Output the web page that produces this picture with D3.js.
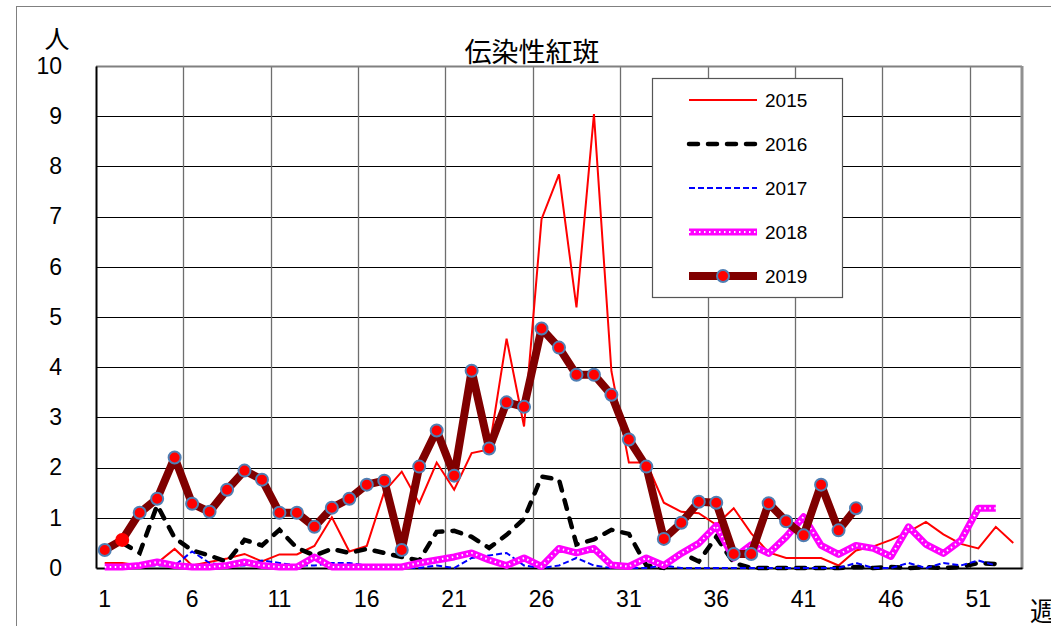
<!DOCTYPE html>
<html lang="ja">
<head>
    <meta charset="UTF-8">
    <title>伝染性紅斑</title>
    <script src="https://d3js.org/d3.v7.min.js"></script>
    <style>
        body { margin: 0; background: #fff; }
        svg text { font-family: "Liberation Sans", Arial, "Noto Sans CJK JP", sans-serif; fill: #000; }
        .cjk { font-family: "Noto Sans CJK JP", sans-serif; }
    </style>
</head>
<body>
<div id="chart"></div>
<script>
    // weekly counts per year (week 1..53)
    const weeks = d3.range(1, 54);
    const xTicks = [1, 6, 11, 16, 21, 26, 31, 36, 41, 46, 51];
    const yTicks = d3.range(0, 11);

    const s2015 = [0.1, 0.1, 0.05, 0.1, 0.38, 0.05, 0.12, 0.19, 0.28, 0.13, 0.27, 0.27, 0.44, 1.01, 0.33, 0.44, 1.52, 1.92, 1.29, 2.1,
                   1.56, 2.29, 2.36, 4.57, 2.82, 6.95, 7.84, 5.19, 9.04, 3.92, 2.1, 2.1, 1.3, 1.12, 1.09, 0.86, 1.19, 0.69, 0.31, 0.2,
                   0.2, 0.2, 0.05, 0.35, 0.43, 0.56, 0.72, 0.92, 0.67, 0.48, 0.39, 0.82, 0.5];
    const s2016 = [0.4, 0.5, 0.3, 1.25, 0.6, 0.35, 0.25, 0.12, 0.56, 0.45, 0.76, 0.4, 0.25, 0.38, 0.3, 0.38, 0.3, 0.22, 0.15, 0.72,
                   0.74, 0.62, 0.4, 0.66, 0.98, 1.82, 1.76, 0.47, 0.57, 0.76, 0.68, 0.05, 0, 0.3, 0.13, 0.62, 0.1, 0, 0, 0,
                   0, 0, 0, 0.02, 0, 0.02, 0, 0.02, 0, 0.02, 0.1, 0.08];
    const s2017 = [0, 0, 0.05, 0.05, 0.05, 0.33, 0.1, 0.05, 0.05, 0.15, 0.1, 0.05, 0.05, 0.1, 0.1, 0.05, 0.05, 0, 0, 0.05,
                   0, 0.2, 0.25, 0.3, 0.05, 0, 0.05, 0.2, 0.05, 0, 0, 0, 0.05, 0, 0, 0, 0, 0, 0, 0,
                   0, 0, 0, 0.1, 0, 0, 0.1, 0, 0.1, 0.05, 0.15, 0.05];
    const s2018 = [0.02, 0.02, 0.05, 0.12, 0.05, 0.02, 0.02, 0.05, 0.12, 0.05, 0.02, 0.02, 0.22, 0.02, 0.02, 0.02, 0.02, 0.02, 0.1, 0.16,
                   0.22, 0.3, 0.16, 0.05, 0.2, 0.03, 0.39, 0.3, 0.39, 0.06, 0.03, 0.2, 0.05, 0.29, 0.49, 0.84, 0.2, 0.46, 0.29, 0.62,
                   1.02, 0.45, 0.27, 0.45, 0.39, 0.23, 0.82, 0.47, 0.29, 0.55, 1.19, 1.19];
    const s2019 = [0.36, 0.56, 1.1, 1.38, 2.2, 1.28, 1.12, 1.56, 1.94, 1.76, 1.1, 1.1, 0.82, 1.2, 1.38, 1.66, 1.74, 0.36, 2.02, 2.74,
                   1.84, 3.93, 2.38, 3.3, 3.21, 4.77, 4.39, 3.85, 3.85, 3.45, 2.56, 2.02, 0.58, 0.9, 1.32, 1.3, 0.28, 0.28, 1.29, 0.93,
                   0.65, 1.66, 0.75, 1.19];
    const years = ["2015", "2016", "2017", "2018", "2019"];

    const W = 1051, H = 626;
    const plotL = 96, plotR = 1022, plotT = 66, plotB = 568;

    const svg = d3.select("#chart").append("svg")
        .attr("width", W).attr("height", H);

    // outer frame
    svg.append("rect")
        .attr("x", 16.5).attr("y", 6.5).attr("width", 1060).attr("height", 640)
        .attr("fill", "none").attr("stroke", "#808080").attr("stroke-width", 1);

    const x = d3.scaleBand().domain(weeks).range([plotL, plotR]).paddingInner(0).paddingOuter(0);
    const cx = w => x(w) + x.bandwidth() / 2;
    const y = d3.scaleLinear().domain([0, 10]).range([plotB, plotT]);

    // horizontal grid
    svg.append("g").selectAll("line").data(yTicks.filter(v => v > 0 && v < 10)).join("line")
        .attr("x1", plotL).attr("x2", plotR)
        .attr("y1", d => Math.round(y(d)) + 0.5).attr("y2", d => Math.round(y(d)) + 0.5)
        .attr("stroke", "#000").attr("stroke-width", 1);

    // vertical grid between week bands
    svg.append("g").selectAll("line").data(xTicks.slice(1)).join("line")
        .attr("x1", d => Math.round(x(d)) + 0.5).attr("x2", d => Math.round(x(d)) + 0.5)
        .attr("y1", plotT).attr("y2", plotB)
        .attr("stroke", "#6e6e6e").attr("stroke-width", 1.3);

    // plot border
    svg.append("line").attr("x1", plotL).attr("x2", plotR).attr("y1", plotT + 0.5).attr("y2", plotT + 0.5)
        .attr("stroke", "#808080").attr("stroke-width", 2);
    svg.append("line").attr("x1", plotR).attr("x2", plotR).attr("y1", plotT).attr("y2", plotB + 1)
        .attr("stroke", "#909090").attr("stroke-width", 3);

    // axes
    const yAxis = svg.append("g").attr("transform", `translate(${plotL},0)`)
        .call(d3.axisLeft(y).tickValues(yTicks).tickSize(0).tickPadding(34).tickFormat(d3.format("d")));
    yAxis.select(".domain").attr("stroke", "#000").attr("stroke-width", 2);
    yAxis.selectAll("text").attr("font-size", 23);

    const xAxis = svg.append("g").attr("transform", `translate(0,${plotB})`)
        .call(d3.axisBottom(x).tickValues(xTicks).tickSize(0).tickPadding(23));
    xAxis.select(".domain").attr("stroke", "#000").attr("stroke-width", 2);
    xAxis.selectAll("text").attr("font-size", 23);

    // titles
    svg.append("text").attr("class", "cjk").attr("x", 532).attr("y", 50)
        .attr("text-anchor", "middle").attr("dominant-baseline", "central")
        .attr("font-size", 27).text("伝染性紅斑");
    svg.append("text").attr("class", "cjk").attr("x", 57).attr("y", 37)
        .attr("text-anchor", "middle").attr("dominant-baseline", "central")
        .attr("font-size", 25).text("人");
    svg.append("text").attr("class", "cjk").attr("x", 1030).attr("y", 609)
        .attr("dominant-baseline", "central")
        .attr("font-size", 26).text("週");

    const line = d3.line().x((d, i) => cx(weeks[i])).y(d => y(d));

    const styles = {
        "2015": g => g.attr("stroke", "#ff0000").attr("stroke-width", 2),
        "2016": g => g.attr("stroke", "#000").attr("stroke-width", 4.5)
                     .attr("stroke-dasharray", "9,10").attr("stroke-linecap", "round"),
        "2017": g => g.attr("stroke", "#0000ff").attr("stroke-width", 2).attr("stroke-dasharray", "6,3"),
        "2018": g => g.attr("stroke", "#ff00ff").attr("stroke-width", 7).attr("stroke-linejoin", "round"),
        "2019": g => g.attr("stroke", "#800000").attr("stroke-width", 8).attr("stroke-linejoin", "round")
    };
    const seriesData = { "2015": s2015, "2016": s2016, "2017": s2017, "2018": s2018, "2019": s2019 };

    const plot = svg.append("g");
    years.forEach(yr => {
        plot.append("path").datum(seriesData[yr]).attr("fill", "none").attr("d", line).call(styles[yr]);
        if (yr === "2018") {
            plot.append("path").datum(seriesData[yr]).attr("fill", "none").attr("d", line)
                .attr("stroke", "#fff").attr("stroke-width", 2).attr("stroke-dasharray", "1.5,3.5");
        }
    });

    // 2019 markers
    plot.selectAll("circle.m").data(s2019).join("circle")
        .attr("class", "m")
        .attr("cx", (d, i) => cx(weeks[i])).attr("cy", d => y(d))
        .attr("r", (d, i) => i === 1 ? 7 : 6)
        .attr("fill", "#ff0000")
        .attr("stroke", (d, i) => i === 1 ? "none" : "#4f7fb4")
        .attr("stroke-width", 2);

    // legend
    const lg = svg.append("g");
    lg.append("rect").attr("x", 652.5).attr("y", 78.5).attr("width", 190).attr("height", 219)
        .attr("fill", "#fff").attr("stroke", "#555").attr("stroke-width", 1.2);
    const rowY = d3.scalePoint().domain(years).range([100, 276]);
    years.forEach(yr => {
        const yy = rowY(yr);
        lg.append("line").attr("x1", 689).attr("x2", 757).attr("y1", yy).attr("y2", yy).call(styles[yr]);
        if (yr === "2018") {
            lg.append("line").attr("x1", 689).attr("x2", 757).attr("y1", yy).attr("y2", yy)
                .attr("stroke", "#fff").attr("stroke-width", 2).attr("stroke-dasharray", "1.5,3.5");
        }
        if (yr === "2019") {
            lg.append("circle").attr("cx", 723).attr("cy", yy).attr("r", 6)
                .attr("fill", "#ff0000").attr("stroke", "#4f7fb4").attr("stroke-width", 2);
        }
        lg.append("text").attr("x", 765).attr("y", yy).attr("dominant-baseline", "central")
            .attr("font-size", 19).text(yr);
    });
</script>
</body>
</html>
